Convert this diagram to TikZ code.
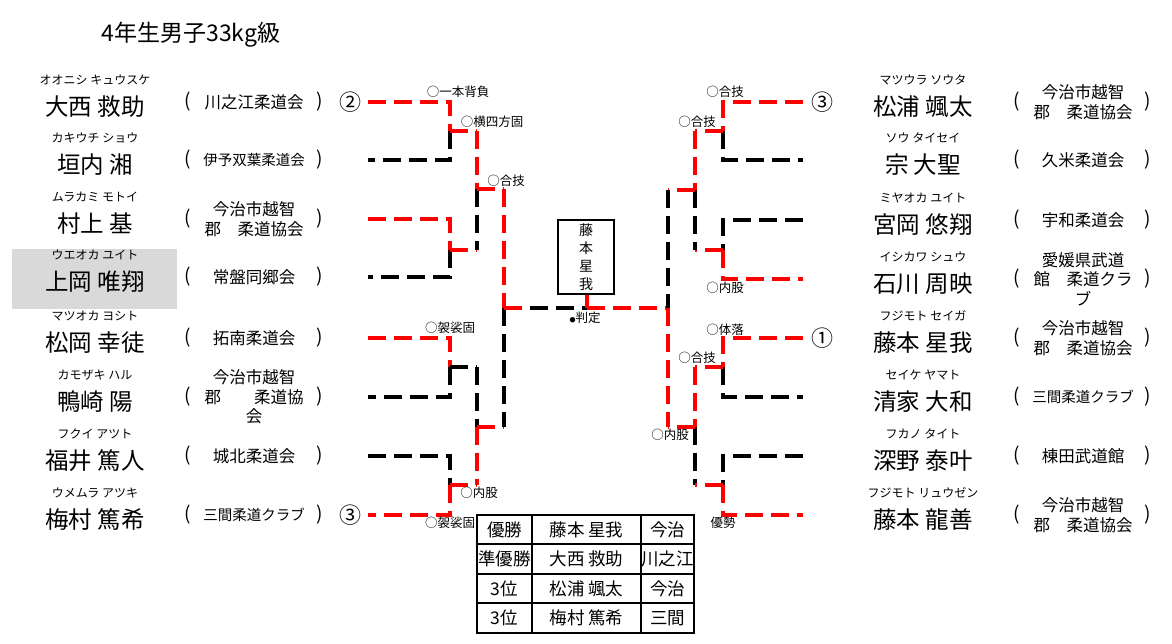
\documentclass[tikz,border=0pt]{standalone}
\usepackage{fontspec}
\setmainfont{Noto Sans CJK JP}
\begin{document}
\begin{tikzpicture}[x=1pt,y=-1pt,
 win/.style={draw=red,line width=3.6pt,dash pattern=on 18pt off 8pt},
 lose/.style={draw=black,line width=3.6pt,dash pattern=on 18pt off 8pt},
 furi/.style={font=\fontsize{12}{14}\selectfont,inner sep=0pt},
 pname/.style={font=\fontsize{23.5}{26}\selectfont,inner sep=0pt},
 club/.style={font=\fontsize{16.5}{19.5}\selectfont,align=center,inner sep=0pt},
 smallclub/.style={club,font=\fontsize{14.5}{17}\selectfont},
 paren/.style={font=\fontsize{19}{22}\selectfont,inner sep=0pt},
 tech/.style={font=\fontsize{12.5}{14}\selectfont,inner sep=0pt},
 rank/.style={font=\fontsize{22}{24}\selectfont,inner sep=0pt},
 cell/.style={font=\fontsize{17.5}{20}\selectfont,inner sep=0pt}]
\useasboundingbox (0,0) rectangle (1172,644);
\fill[white] (0,0) rectangle (1172,644);
\newcommand{\plL}[4]{%
 \node[furi] (#1f) at (95,#2-22) {#3};
 \node[pname] (#1n) at (95,#2+5) {#4};}
\newcommand{\plR}[4]{%
 \node[furi] (#1f) at (923,#2-22) {#3};
 \node[pname] (#1n) at (923,#2+5) {#4};}
\newcommand{\clL}[4][club]{%
 \node[paren] (#2a) at (188,#3) {(};
 \node[#1] (#2c) at (254,#3) {#4};
 \node[paren] (#2b) at (320,#3) {)};}
\newcommand{\clR}[4][club]{%
 \node[paren] (#2a) at (1017,#3) {(};
 \node[#1] (#2c) at (1083,#3) {#4};
 \node[paren] (#2b) at (1148,#3) {)};}
% title
\node[font=\fontsize{23}{26}\selectfont,inner sep=0pt] (title) at (191,35) {4年生男子33kg級};
% highlight
\fill[black!15] (12,249) rectangle (177,309);
% left players
\plL{a}{102}{オオニシ キュウスケ}{大西 救助}
\clL{a}{102}{川之江柔道会}
\plL{b}{160}{カキウチ ショウ}{垣内 湘}
\clL[smallclub]{b}{160}{伊予双葉柔道会}
\plL{c}{219}{ムラカミ モトイ}{村上 基}
\clL{c}{219}{今治市越智\\郡　柔道協会}
\plL{d}{277}{ウエオカ ユイト}{上岡 唯翔}
\clL{d}{277}{常盤同郷会}
\plL{e}{338}{マツオカ ヨシト}{松岡 幸徒}
\clL{e}{338}{拓南柔道会}
\plL{f}{397}{カモザキ ハル}{鴨崎 陽}
\clL{f}{397}{今治市越智\\郡　　柔道協\\会}
\plL{g}{456}{フクイ アツト}{福井 篤人}
\clL{g}{456}{城北柔道会}
\plL{h}{515}{ウメムラ アツキ}{梅村 篤希}
\clL[smallclub]{h}{515}{三間柔道クラブ}
% right players
\plR{i}{102}{マツウラ ソウタ}{松浦 颯太}
\clR{i}{102}{今治市越智\\郡　柔道協会}
\plR{j}{160}{ソウ タイセイ}{宗 大聖}
\clR{j}{160}{久米柔道会}
\plR{k}{220}{ミヤオカ ユイト}{宮岡 悠翔}
\clR{k}{220}{宇和柔道会}
\plR{l}{279}{イシカワ シュウ}{石川 周映}
\clR{l}{279}{愛媛県武道\\館　柔道クラ\\ブ}
\plR{m}{338}{フジモト セイガ}{藤本 星我}
\clR{m}{338}{今治市越智\\郡　柔道協会}
\plR{n}{397}{セイケ ヤマト}{清家 大和}
\clR[smallclub]{n}{397}{三間柔道クラブ}
\plR{o}{456}{フカノ タイト}{深野 泰叶}
\clR{o}{456}{棟田武道館}
\plR{p}{515}{フジモト リュウゼン}{藤本 龍善}
\clR{p}{515}{今治市越智\\郡　柔道協会}
% ranks
\node[rank] (r2) at (350,102) {②};
\node[rank] (r3a) at (350,515) {③};
\node[rank] (r3b) at (822,102) {③};
\node[rank] (r1) at (822,338) {①};
% ---- left bracket ----
\draw[lose] (450,131) -- (450,160) -- (368,160);
\draw[win] (368,102) -- (450,102) -- (450,131);
\draw[lose] (450,250) -- (450,277) -- (368,277);
\draw[win] (368,219) -- (450,219) -- (450,250);
\draw[win] (450,131) -- (477,131);
\draw[win] (450,250) -- (477,250);
\draw[lose] (477,189) -- (477,250);
\draw[win] (477,131) -- (477,189);
\draw[win] (477,189) -- (504,189);
\draw[lose] (450,367) -- (450,397) -- (368,397);
\draw[win] (368,338) -- (450,338) -- (450,367);
\draw[lose] (450,367) -- (477,367);
\draw[lose] (477,367) -- (477,427);
\draw[lose] (368,456) -- (450,456) -- (450,485);
\draw[win] (450,485) -- (450,515) -- (368,515);
\draw[win] (450,485) -- (477,485);
\draw[win] (477,427) -- (477,485);
\draw[win] (477,427) -- (504,427);
\draw[lose] (504,308) -- (504,427);
\draw[win] (504,189) -- (504,308);
% final
\draw[lose] (530,308) -- (587,308);
\draw[win] (504,308) -- (530,308);
\draw[win] (587,308) -- (668,308);
% ---- right bracket ----
\draw[lose] (723,131) -- (723,160) -- (803,160);
\draw[win] (803,102) -- (723,102) -- (723,131);
\draw[win] (723,131) -- (695,131);
\draw[lose] (803,220) -- (723,220) -- (723,250);
\draw[win] (723,250) -- (723,279) -- (803,279);
\draw[win] (723,250) -- (695,250);
\draw[lose] (695,190) -- (695,250);
\draw[win] (695,131) -- (695,190);
\draw[win] (695,190) -- (668,190);
\draw[lose] (668,190) -- (668,308);
\draw[win] (668,308) -- (668,427);
\draw[lose] (723,367) -- (723,397) -- (803,397);
\draw[win] (803,338) -- (723,338) -- (723,367);
\draw[win] (723,367) -- (695,367);
\draw[lose] (695,427) -- (695,485);
\draw[win] (695,367) -- (695,427);
\draw[win] (695,427) -- (668,427);
\draw[lose] (803,456) -- (723,456) -- (723,485);
\draw[win] (723,485) -- (723,515) -- (803,515);
\draw[win] (723,485) -- (695,485);
% winner box
\node[draw,line width=1.8pt,minimum width=56pt,minimum height=74pt,inner sep=0pt,align=center,
  font=\fontsize{14}{18}\selectfont] (champ) at (586,257) {藤\\本\\星\\我};
\coordinate (fin) at (587,308);
\draw[win,dash pattern=] (champ.south -| fin) -- (fin);
% technique labels
\node[tech] (t1) at (458,92) {○一本背負};
\node[tech] (t2) at (492,122) {○横四方固};
\node[tech] (t3) at (506,181) {○合技};
\node[tech] (t4) at (450,328) {○袈裟固};
\node[tech] (t5) at (479,493) {○内股};
\node[tech] (t6) at (450,523) {○袈裟固};
\node[tech] (t7) at (725,92) {○合技};
\node[tech] (t8) at (697,122) {○合技};
\node[tech] (t9) at (725,288) {○内股};
\node[tech] (t10) at (725,330) {○体落};
\node[tech] (t11) at (697,358) {○合技};
\node[tech] (t12) at (670,435) {○内股};
\node[tech] (t13) at (723,523) {優勢};
\node[tech] (t14) at (585,318) {{\fontsize{6}{6}\selectfont ●}判定};
% result table
\draw[line width=1.6pt] (477,515) rectangle (694,633);
\foreach \yy in {544,574,603} \draw[line width=1.6pt] (477,\yy) -- (694,\yy);
\foreach \xx in {532,641} \draw[line width=1.6pt] (\xx,515) -- (\xx,633);
\node[cell] (c11) at (504.5,530) {優勝};
\node[cell] (c12) at (586.5,530) {藤本 星我};
\node[cell] (c13) at (667.5,530) {今治};
\node[cell] (c21) at (504.5,559) {準優勝};
\node[cell] (c22) at (586.5,559) {大西 救助};
\node[cell] (c23) at (667.5,559) {川之江};
\node[cell] (c31) at (504.5,588.5) {3位};
\node[cell] (c32) at (586.5,588.5) {松浦 颯太};
\node[cell] (c33) at (667.5,588.5) {今治};
\node[cell] (c41) at (504.5,618) {3位};
\node[cell] (c42) at (586.5,618) {梅村 篤希};
\node[cell] (c43) at (667.5,618) {三間};
\end{tikzpicture}
\end{document}
